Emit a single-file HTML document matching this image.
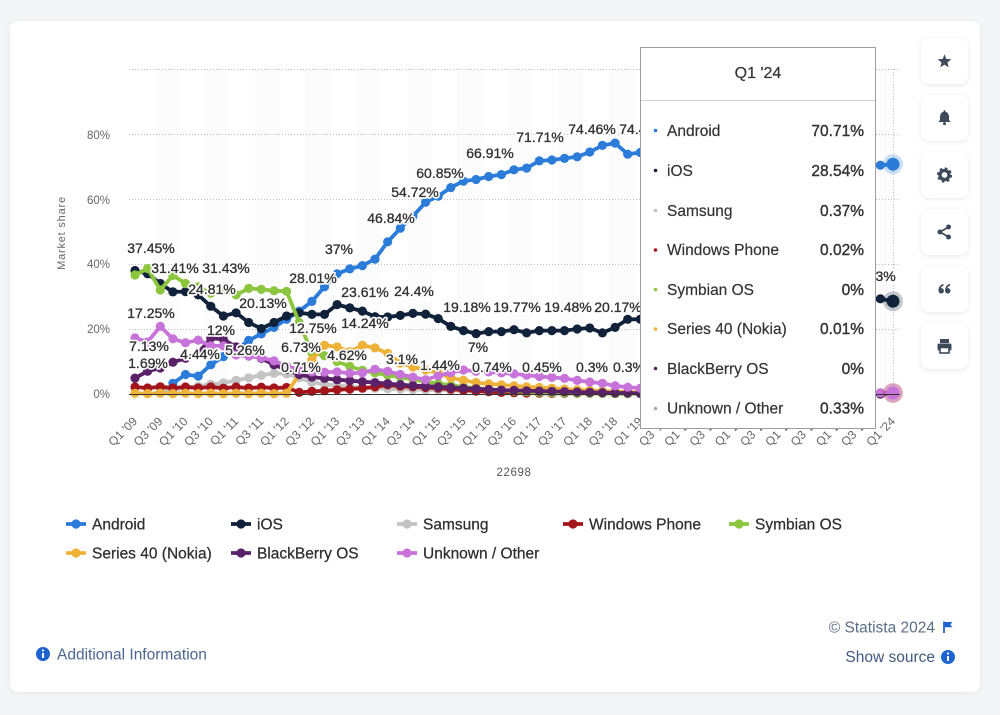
<!DOCTYPE html>
<html><head><meta charset="utf-8">
<style>
html,body{margin:0;padding:0;}
body{width:1000px;height:715px;background:#f4f5f7;position:relative;overflow:hidden;font-family:"Liberation Sans",Arial,sans-serif;}
.card{position:absolute;left:10px;top:21px;width:970px;height:671px;background:#fff;border-radius:8px;box-shadow:0 1px 6px rgba(0,0,0,0.06);}
.btn{position:absolute;left:921px;width:47px;height:46px;background:#fff;border-radius:8px;box-shadow:0 1px 5px rgba(0,0,0,0.10);}
svg.main{position:absolute;left:0;top:0;}
.dlh{font-size:14px;fill:#fff;stroke:#fff;stroke-width:3.5px;stroke-linejoin:round;}
.dl{font-size:14px;fill:#333;stroke:#333;stroke-width:0.35px;}
.xl{font-size:12px;fill:#666;}
.yl{font-size:11.5px;fill:#666;}
.lg{font-size:15.5px;fill:#2e2e2e;stroke:#2e2e2e;stroke-width:0.25px;}
.tt{font-size:15.5px;fill:#333;stroke:#333;stroke-width:0.2px;}
</style></head><body>
<div class="card"></div>
<div class="btn" style="top:38px"></div>
<div class="btn" style="top:95px"></div>
<div class="btn" style="top:152px"></div>
<div class="btn" style="top:209px"></div>
<div class="btn" style="top:266px"></div>
<div class="btn" style="top:323px"></div>
<svg class="main" width="1000" height="715" viewBox="0 0 1000 715" xmlns="http://www.w3.org/2000/svg" font-family="Liberation Sans, Arial, sans-serif">
<defs>
<marker id="mA" viewBox="-5 -5 10 10" markerWidth="10" markerHeight="10" markerUnits="userSpaceOnUse"><circle r="4.6" fill="#2b7bd9"/></marker>
<marker id="mI" viewBox="-5 -5 10 10" markerWidth="10" markerHeight="10" markerUnits="userSpaceOnUse"><circle r="4.6" fill="#10213a"/></marker>
<marker id="mG" viewBox="-5 -5 10 10" markerWidth="10" markerHeight="10" markerUnits="userSpaceOnUse"><circle r="4.6" fill="#c3c3c3"/></marker>
<marker id="mW" viewBox="-5 -5 10 10" markerWidth="10" markerHeight="10" markerUnits="userSpaceOnUse"><circle r="4.6" fill="#a3151b"/></marker>
<marker id="mS" viewBox="-5 -5 10 10" markerWidth="10" markerHeight="10" markerUnits="userSpaceOnUse"><circle r="4.6" fill="#8cc63f"/></marker>
<marker id="mN" viewBox="-5 -5 10 10" markerWidth="10" markerHeight="10" markerUnits="userSpaceOnUse"><circle r="4.6" fill="#efb239"/></marker>
<marker id="mB" viewBox="-5 -5 10 10" markerWidth="10" markerHeight="10" markerUnits="userSpaceOnUse"><circle r="4.6" fill="#5a2168"/></marker>
<marker id="mU" viewBox="-5 -5 10 10" markerWidth="10" markerHeight="10" markerUnits="userSpaceOnUse"><circle r="4.6" fill="#c873d9"/></marker>
</defs>

<!-- bands -->
<g fill="#fcfcfc">
<rect x="154" y="69" width="25.3" height="325"/><rect x="204.5" y="69" width="25.3" height="325"/><rect x="255" y="69" width="25.3" height="325"/><rect x="305.6" y="69" width="25.3" height="325"/><rect x="356.1" y="69" width="25.3" height="325"/><rect x="406.7" y="69" width="25.3" height="325"/><rect x="457.2" y="69" width="25.3" height="325"/><rect x="507.7" y="69" width="25.3" height="325"/><rect x="558.3" y="69" width="25.3" height="325"/><rect x="608.8" y="69" width="25.3" height="325"/><rect x="659.3" y="69" width="25.3" height="325"/><rect x="709.9" y="69" width="25.3" height="325"/><rect x="760.4" y="69" width="25.3" height="325"/><rect x="811" y="69" width="25.3" height="325"/><rect x="861.5" y="69" width="25.3" height="325"/>
</g>

<!-- grid -->
<g stroke="#bdbdbd" stroke-width="1" stroke-dasharray="1 2">
<line x1="129" y1="69.5" x2="900" y2="69.5"/>
<line x1="129" y1="134.5" x2="900" y2="134.5"/>
<line x1="129" y1="199.5" x2="900" y2="199.5"/>
<line x1="129" y1="264.5" x2="900" y2="264.5"/>
<line x1="129" y1="329.5" x2="900" y2="329.5"/>
<line x1="893.5" y1="69" x2="893.5" y2="394"/>
</g>

<!-- y labels -->
<g class="yl" text-anchor="end">
<text x="110" y="139">80%</text>
<text x="110" y="204">60%</text>
<text x="110" y="268">40%</text>
<text x="110" y="333">20%</text>
<text x="110" y="398">0%</text>
</g>
<text transform="translate(65,233) rotate(-90)" text-anchor="middle" font-size="11" fill="#666" letter-spacing="0.8">Market share</text>
<text x="514" y="476" text-anchor="middle" font-size="11.5" fill="#555" letter-spacing="0.6">22698</text>

<!-- series -->
<g fill="none" stroke-width="3.8" stroke-linejoin="round" stroke-linecap="round">
<polyline stroke="#2b7bd9" marker-start="url(#mA)" marker-mid="url(#mA)" marker-end="url(#mA)" points="172.9,383.3 185.5,374.5 198.2,376.1 210.8,364.8 223.4,356.6 236.1,350.1 248.7,340.4 261.3,333.9 274,327.4 286.6,319.3 299.2,311.1 311.9,301.4 324.5,286.8 337.1,273.8 349.8,268.9 362.4,265.6 375,259.1 387.7,241.8 400.3,228.3 412.9,216.2 425.6,202.3 438.2,196.2 450.8,187.6 463.5,181.1 476.1,179.5 488.7,176.5 501.4,174.6 514,169.8 526.6,168.1 539.3,160.9 551.9,160 564.5,158.4 577.2,156.8 589.8,152 602.4,145.4 615.1,143.1 627.7,154.2 640.3,152.5 880.4,165.2 893,164.2"/>
<polyline stroke="#10213a" marker-start="url(#mI)" marker-mid="url(#mI)" marker-end="url(#mI)" points="135,270.5 147.6,273.8 160.3,283.5 172.9,291.9 185.5,291.6 198.2,294.9 210.8,306.3 223.4,316 236.1,312.8 248.7,322.5 261.3,328.6 274,322.5 286.6,316 299.2,312.8 311.9,314.4 324.5,314.4 337.1,304.6 349.8,307.9 362.4,311.1 375,316.7 387.7,317 400.3,315.4 412.9,313.4 425.6,314.1 438.2,318.6 450.8,326.4 463.5,330.6 476.1,333.6 488.7,331.6 501.4,331.6 514,329.7 526.6,332.9 539.3,330.6 551.9,330.6 564.5,330.6 577.2,329 589.8,328 602.4,332.9 615.1,327.4 627.7,319.3 640.3,319.3 880.4,298.8 893,301.2"/>
<polyline stroke="#c3c3c3" marker-start="url(#mG)" marker-mid="url(#mG)" marker-end="url(#mG)" points="160.3,391.4 172.9,390.1 185.5,387.5 198.2,386.2 210.8,384.3 223.4,383 236.1,380.4 248.7,377.8 261.3,375.2 274,373.2 286.6,373.9 299.2,377.8 311.9,382.3 324.5,384.3 337.1,385.6 349.8,386.5 362.4,387.5 375,388.2 387.7,388.8 400.3,389.1 412.9,389.5 425.6,389.8 438.2,390.1 450.8,390.4 463.5,390.8 476.1,390.8 488.7,391.1 501.4,391.1 514,391.4 526.6,391.4 539.3,391.7 551.9,391.7 564.5,392 577.2,392 589.8,392.4 602.4,392.4 615.1,392.4 627.7,392.4 640.3,392.4 880.4,392.8 893,392.8"/>
<polyline stroke="#a3151b" marker-start="url(#mW)" marker-mid="url(#mW)" marker-end="url(#mW)" points="135,387 147.6,388 160.3,386.8 172.9,388 185.5,387 198.2,388 210.8,387 223.4,388.2 236.1,387 248.7,388 261.3,387.2 274,388 286.6,387.5 299.2,392.4 311.9,391.4 324.5,390.8 337.1,389.8 349.8,389.1 362.4,388.2 375,386.9 387.7,384.9 400.3,386.2 412.9,386.9 425.6,387.5 438.2,388.2 450.8,389.1 463.5,390.1 476.1,391.1 488.7,391.7 501.4,392.4 514,392.7 526.6,393 539.3,393.2 551.9,393.4 564.5,393.4 577.2,393.4 589.8,393.4 602.4,393.4 615.1,393.4 627.7,393.4 640.3,393.4 880.4,393.9 893,393.9"/>
<polyline stroke="#8cc63f" marker-start="url(#mS)" marker-mid="url(#mS)" marker-end="url(#mS)" points="135,275 147.6,268.5 160.3,290 172.9,275.4 185.5,283.5 198.2,286.8 210.8,293.3 223.4,290 236.1,294.9 248.7,288.4 261.3,289.4 274,290.7 286.6,291.3 299.2,322.5 311.9,352.6 324.5,355.7 337.1,361.5 349.8,366.4 362.4,370.3 375,372.9 387.7,375.2 400.3,377.1 412.9,379.4 425.6,381.7 438.2,383.6 450.8,385.2 463.5,386.9 476.1,388.2 488.7,389.5 501.4,390.4 514,391.1 526.6,391.7 539.3,392.4 551.9,392.7 564.5,393 577.2,393.2 589.8,393.4 602.4,393.5 615.1,393.7 627.7,393.7 640.3,393.8 880.4,394 893,394"/>
<polyline stroke="#efb239" marker-start="url(#mN)" marker-mid="url(#mN)" marker-end="url(#mN)" points="135,393.3 147.6,393.6 160.3,393.2 172.9,393.6 185.5,393.2 198.2,393.6 210.8,393.2 223.4,393.6 236.1,393.2 248.7,393.6 261.3,393.2 274,393.6 286.6,393.2 299.2,374.5 311.9,359.9 324.5,345.3 337.1,346.9 349.8,351.8 362.4,345.3 375,347.9 387.7,353.4 400.3,363.1 412.9,367 425.6,370 438.2,372.9 450.8,377.8 463.5,380.4 476.1,382.6 488.7,383.9 501.4,384.9 514,385.9 526.6,386.9 539.3,387.5 551.9,388.2 564.5,389.1 577.2,389.8 589.8,390.4 602.4,391.1 615.1,391.4 627.7,392 640.3,392.4 880.4,393.9 893,394"/>
<polyline stroke="#5a2168" marker-start="url(#mB)" marker-mid="url(#mB)" marker-end="url(#mB)" points="135,378.1 147.6,371.3 160.3,368 172.9,362.2 185.5,358.3 198.2,353.1 210.8,338.1 223.4,339.4 236.1,346.9 248.7,353.4 261.3,358.3 274,364.8 286.6,369.6 299.2,374.5 311.9,377.1 324.5,378.4 337.1,379.7 349.8,380.7 362.4,381.7 375,382.6 387.7,383.6 400.3,384.6 412.9,385.6 425.6,386.2 438.2,386.9 450.8,387.5 463.5,388.2 476.1,388.8 488.7,389.5 501.4,390.1 514,390.4 526.6,390.8 539.3,391.1 551.9,391.4 564.5,391.7 577.2,392 589.8,392.4 602.4,392.7 615.1,393 627.7,393 640.3,393.4 880.4,394 893,394"/>
<polyline stroke="#c873d9" marker-start="url(#mU)" marker-mid="url(#mU)" marker-end="url(#mU)" points="135,337.9 147.6,342 160.3,326.4 172.9,338.8 185.5,342.7 198.2,340.1 210.8,345.9 223.4,345.9 236.1,355 248.7,356.3 261.3,357.6 274,360.9 286.6,366.1 299.2,370 311.9,371.9 324.5,372.2 337.1,371.9 349.8,373.2 362.4,372.9 375,369.3 387.7,371.3 400.3,374.5 412.9,377.1 425.6,379.7 438.2,375.8 450.8,372.6 463.5,370 476.1,371.3 488.7,371.9 501.4,372.9 514,373.9 526.6,375.2 539.3,376.5 551.9,377.4 564.5,378.4 577.2,380.4 589.8,382 602.4,383.3 615.1,385.9 627.7,387.2 640.3,388.2 880.4,392.9 893,392.9"/>
</g>

<!-- hover halos -->
<circle cx="893" cy="164.2" r="10" fill="#2b7bd9" opacity="0.25"/>
<circle cx="893" cy="164.2" r="6.5" fill="#2b7bd9"/>
<circle cx="893" cy="301.2" r="10" fill="#10213a" opacity="0.25"/>
<circle cx="893" cy="301.2" r="6.5" fill="#10213a"/>
<circle cx="893" cy="393" r="10" fill="#a3151b" opacity="0.3"/>
<circle cx="893" cy="393" r="9" fill="#c873d9" opacity="0.35"/>
<circle cx="893" cy="393" r="6.5" fill="#c873d9"/>

<!-- x axis line -->
<line x1="129" y1="394.5" x2="900" y2="394.5" stroke="#333" stroke-width="1"/>

<!-- data labels: halo layer -->
<g class="dlh" text-anchor="middle">
<text x="151" y="253">37.45%</text>
<text x="175" y="273">31.41%</text>
<text x="226" y="273">31.43%</text>
<text x="212" y="294">24.81%</text>
<text x="263" y="308">20.13%</text>
<text x="151" y="318">17.25%</text>
<text x="221" y="335">12%</text>
<text x="149" y="351">7.13%</text>
<text x="200" y="359">4.44%</text>
<text x="245" y="355">5.26%</text>
<text x="148" y="368">1.69%</text>
<text x="313" y="283">28.01%</text>
<text x="339" y="254">37%</text>
<text x="313" y="333">12.75%</text>
<text x="301" y="352">6.73%</text>
<text x="301" y="372">0.71%</text>
<text x="347" y="360">4.62%</text>
<text x="365" y="297">23.61%</text>
<text x="365" y="328">14.24%</text>
<text x="414" y="296">24.4%</text>
<text x="391" y="223">46.84%</text>
<text x="415" y="197">54.72%</text>
<text x="440" y="178">60.85%</text>
<text x="490" y="158">66.91%</text>
<text x="540" y="142">71.71%</text>
<text x="592" y="134">74.46%</text>
<text x="643" y="134">74.43%</text>
<text x="467" y="312">19.18%</text>
<text x="517" y="312">19.77%</text>
<text x="568" y="312">19.48%</text>
<text x="618" y="312">20.17%</text>
<text x="478" y="352">7%</text>
<text x="402" y="364">3.1%</text>
<text x="440" y="370">1.44%</text>
<text x="492" y="372">0.74%</text>
<text x="542" y="372">0.45%</text>
<text x="592" y="372">0.3%</text>
<text x="629" y="372">0.3%</text>
<text x="872" y="281">28.53%</text>
</g>
<!-- data labels: text layer -->
<g class="dl" text-anchor="middle">
<text x="151" y="253">37.45%</text>
<text x="175" y="273">31.41%</text>
<text x="226" y="273">31.43%</text>
<text x="212" y="294">24.81%</text>
<text x="263" y="308">20.13%</text>
<text x="151" y="318">17.25%</text>
<text x="221" y="335">12%</text>
<text x="149" y="351">7.13%</text>
<text x="200" y="359">4.44%</text>
<text x="245" y="355">5.26%</text>
<text x="148" y="368">1.69%</text>
<text x="313" y="283">28.01%</text>
<text x="339" y="254">37%</text>
<text x="313" y="333">12.75%</text>
<text x="301" y="352">6.73%</text>
<text x="301" y="372">0.71%</text>
<text x="347" y="360">4.62%</text>
<text x="365" y="297">23.61%</text>
<text x="365" y="328">14.24%</text>
<text x="414" y="296">24.4%</text>
<text x="391" y="223">46.84%</text>
<text x="415" y="197">54.72%</text>
<text x="440" y="178">60.85%</text>
<text x="490" y="158">66.91%</text>
<text x="540" y="142">71.71%</text>
<text x="592" y="134">74.46%</text>
<text x="643" y="134">74.43%</text>
<text x="467" y="312">19.18%</text>
<text x="517" y="312">19.77%</text>
<text x="568" y="312">19.48%</text>
<text x="618" y="312">20.17%</text>
<text x="478" y="352">7%</text>
<text x="402" y="364">3.1%</text>
<text x="440" y="370">1.44%</text>
<text x="492" y="372">0.74%</text>
<text x="542" y="372">0.45%</text>
<text x="592" y="372">0.3%</text>
<text x="629" y="372">0.3%</text>
<text x="872" y="281">28.53%</text>
</g>

<!-- x labels -->
<g class="xl" text-anchor="end">
<text transform="translate(138,422) rotate(-45)">Q1 '09</text>
<text transform="translate(163.3,422) rotate(-45)">Q3 '09</text>
<text transform="translate(188.5,422) rotate(-45)">Q1 '10</text>
<text transform="translate(213.8,422) rotate(-45)">Q3 '10</text>
<text transform="translate(239.1,422) rotate(-45)">Q1 '11</text>
<text transform="translate(264.3,422) rotate(-45)">Q3 '11</text>
<text transform="translate(289.6,422) rotate(-45)">Q1 '12</text>
<text transform="translate(314.9,422) rotate(-45)">Q3 '12</text>
<text transform="translate(340.1,422) rotate(-45)">Q1 '13</text>
<text transform="translate(365.4,422) rotate(-45)">Q3 '13</text>
<text transform="translate(390.7,422) rotate(-45)">Q1 '14</text>
<text transform="translate(415.9,422) rotate(-45)">Q3 '14</text>
<text transform="translate(441.2,422) rotate(-45)">Q1 '15</text>
<text transform="translate(466.5,422) rotate(-45)">Q3 '15</text>
<text transform="translate(491.7,422) rotate(-45)">Q1 '16</text>
<text transform="translate(517,422) rotate(-45)">Q3 '16</text>
<text transform="translate(542.3,422) rotate(-45)">Q1 '17</text>
<text transform="translate(567.5,422) rotate(-45)">Q3 '17</text>
<text transform="translate(592.8,422) rotate(-45)">Q1 '18</text>
<text transform="translate(618.1,422) rotate(-45)">Q3 '18</text>
<text transform="translate(643.3,422) rotate(-45)">Q1 '19</text>
<text transform="translate(668.6,422) rotate(-45)">Q3 '19</text>
<text transform="translate(693.9,422) rotate(-45)">Q1 '20</text>
<text transform="translate(719.1,422) rotate(-45)">Q3 '20</text>
<text transform="translate(744.4,422) rotate(-45)">Q1 '21</text>
<text transform="translate(769.7,422) rotate(-45)">Q3 '21</text>
<text transform="translate(794.9,422) rotate(-45)">Q1 '22</text>
<text transform="translate(820.2,422) rotate(-45)">Q3 '22</text>
<text transform="translate(845.5,422) rotate(-45)">Q1 '23</text>
<text transform="translate(870.7,422) rotate(-45)">Q3 '23</text>
<text transform="translate(896,422) rotate(-45)">Q1 '24</text>
</g>

<!-- tooltip -->
<rect x="640.5" y="47.5" width="235" height="381" fill="#fff" stroke="#9e9e9e" stroke-width="1"/>
<text x="758" y="78" text-anchor="middle" font-size="16" fill="#333" stroke="#333" stroke-width="0.2">Q1 '24</text>
<line x1="641" y1="100.5" x2="875" y2="100.5" stroke="#d2d2d2" stroke-width="1"/>
<g>
<circle cx="655.5" cy="130.5" r="1.8" fill="#2b7bd9"/>
<circle cx="655.5" cy="170.5" r="1.8" fill="#10213a"/>
<circle cx="655.5" cy="210.5" r="1.8" fill="#c3c3c3"/>
<circle cx="655.5" cy="250" r="1.8" fill="#a3151b"/>
<circle cx="655.5" cy="289.5" r="1.8" fill="#8cc63f"/>
<circle cx="655.5" cy="329" r="1.8" fill="#efb239"/>
<circle cx="655.5" cy="368.5" r="1.8" fill="#5a2168"/>
<circle cx="655.5" cy="408.5" r="1.8" fill="#aaaaaa"/>
</g>
<g class="tt">
<text x="667" y="136">Android</text>
<text x="667" y="176">iOS</text>
<text x="667" y="216">Samsung</text>
<text x="667" y="255">Windows Phone</text>
<text x="667" y="295">Symbian OS</text>
<text x="667" y="334">Series 40 (Nokia)</text>
<text x="667" y="374">BlackBerry OS</text>
<text x="667" y="413.5">Unknown / Other</text>
</g>
<g class="tt" text-anchor="end" style="stroke-width:0.4px">
<text x="864" y="136">70.71%</text>
<text x="864" y="176">28.54%</text>
<text x="864" y="216">0.37%</text>
<text x="864" y="255">0.02%</text>
<text x="864" y="295">0%</text>
<text x="864" y="334">0.01%</text>
<text x="864" y="374">0%</text>
<text x="864" y="413.5">0.33%</text>
</g>

<!-- legend -->
<g stroke-width="3.8">
<line x1="66" y1="524" x2="86" y2="524" stroke="#2b7bd9"/><circle cx="76" cy="524" r="4.6" fill="#2b7bd9"/>
<line x1="231" y1="524" x2="251" y2="524" stroke="#10213a"/><circle cx="241" cy="524" r="4.6" fill="#10213a"/>
<line x1="397" y1="524" x2="417" y2="524" stroke="#c3c3c3"/><circle cx="407" cy="524" r="4.6" fill="#c3c3c3"/>
<line x1="563" y1="524" x2="583" y2="524" stroke="#a3151b"/><circle cx="573" cy="524" r="4.6" fill="#a3151b"/>
<line x1="729" y1="524" x2="749" y2="524" stroke="#8cc63f"/><circle cx="739" cy="524" r="4.6" fill="#8cc63f"/>
<line x1="66" y1="553" x2="86" y2="553" stroke="#efb239"/><circle cx="76" cy="553" r="4.6" fill="#efb239"/>
<line x1="231" y1="553" x2="251" y2="553" stroke="#5a2168"/><circle cx="241" cy="553" r="4.6" fill="#5a2168"/>
<line x1="397" y1="553" x2="417" y2="553" stroke="#c873d9"/><circle cx="407" cy="553" r="4.6" fill="#c873d9"/>
</g>
<g class="lg">
<text x="92" y="529.5">Android</text>
<text x="257" y="529.5">iOS</text>
<text x="423" y="529.5">Samsung</text>
<text x="589" y="529.5">Windows Phone</text>
<text x="755" y="529.5">Symbian OS</text>
<text x="92" y="558.5">Series 40 (Nokia)</text>
<text x="257" y="558.5">BlackBerry OS</text>
<text x="423" y="558.5">Unknown / Other</text>
</g>

<!-- footer -->
<circle cx="43" cy="654" r="7" fill="#1f63d0"/>
<rect x="42" y="653" width="2" height="5" fill="#fff"/><circle cx="43" cy="650.5" r="1.1" fill="#fff"/>
<text x="57" y="659.5" font-size="15.5" fill="#4a6590">Additional Information</text>
<text x="935" y="632.5" text-anchor="end" font-size="15.5" fill="#5b6d85">© Statista 2024</text>
<line x1="944" y1="621.5" x2="944" y2="633" stroke="#1f63d0" stroke-width="1.8"/>
<path d="M944.5,622 h8 l-2.2,2.6 l2.2,2.6 h-8 z" fill="#1f63d0"/>
<text x="935" y="662" text-anchor="end" font-size="15.5" fill="#3f5a7e">Show source</text>
<circle cx="948" cy="657" r="7" fill="#1f63d0"/>
<rect x="947" y="656" width="2" height="5" fill="#fff"/><circle cx="948" cy="653.5" r="1.1" fill="#fff"/>

<!-- button icons -->
<g fill="#3c4a5c">
<polygon transform="translate(944.5,61.5)" points="0,-7.2 1.82,-2.51 6.85,-2.22 2.95,0.96 4.23,5.82 0,3.1 -4.23,5.82 -2.95,0.96 -6.85,-2.22 -1.82,-2.51"/>
<g transform="translate(944.5,118)">
<path d="M-6,4 L-4.5,1.8 V-1.5 A4.5,5 0 0 1 4.5,-1.5 V1.8 L6,4 Z"/>
<circle cy="5.6" r="1.5"/>
<rect x="-0.8" y="-7.8" width="1.6" height="2"/>
</g>
<g transform="translate(944.5,175)" fill="none" stroke="#3c4a5c">
<circle r="4.5" stroke-width="3.3"/>
<circle r="6.4" stroke-width="2.4" stroke-dasharray="2.6 2.43"/>
</g>
<g transform="translate(944.5,232)">
<line x1="4" y1="-5" x2="-4.5" y2="0" stroke="#3c4a5c" stroke-width="1.7"/>
<line x1="4" y1="5" x2="-4.5" y2="0" stroke="#3c4a5c" stroke-width="1.7"/>
<circle cx="4" cy="-5" r="2.5"/><circle cx="-4.5" cy="0" r="2.5"/><circle cx="4" cy="5" r="2.5"/>
</g>
<g transform="translate(944.5,289)">
<circle cx="-3.3" cy="1.8" r="2.7"/>
<path d="M-6,1.8 C-6,-2.5 -3.5,-4.8 -1,-5 L-1,-3.4 C-2.8,-3 -3.8,-1.5 -3.6,0 Z"/>
<circle cx="3.3" cy="1.8" r="2.7"/>
<path d="M0.6,1.8 C0.6,-2.5 3.1,-4.8 5.6,-5 L5.6,-3.4 C3.8,-3 2.8,-1.5 3,0 Z"/>
</g>
<g transform="translate(944.5,346)">
<rect x="-4.5" y="-7" width="9" height="4"/>
<rect x="-7" y="-2.5" width="14" height="7" rx="1.8"/>
<rect x="-4.5" y="1.5" width="9" height="5.5" fill="#fff" stroke="#3c4a5c" stroke-width="1.6"/>
</g>
</g>
</svg>
</body></html>
